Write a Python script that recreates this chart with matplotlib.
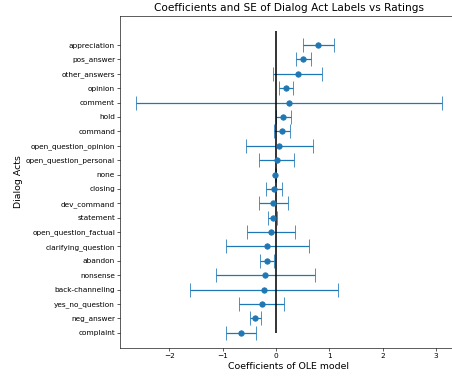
import matplotlib
matplotlib.use("Agg")
import matplotlib.pyplot as plt

# bottom to top, as drawn on the y axis
labels = ['complaint', 'neg_answer', 'yes_no_question', 'back-channeling',
          'nonsense', 'abandon', 'clarifying_question', 'open_question_factual',
          'statement', 'dev_command', 'closing', 'none',
          'open_question_personal', 'open_question_opinion', 'command', 'hold',
          'comment', 'opinion', 'other_answers', 'pos_answer', 'appreciation']
coefs = [-0.66, -0.39, -0.27, -0.225, -0.20, -0.17, -0.16, -0.09,
         -0.06, -0.05, -0.03, -0.01, 0.01, 0.06, 0.11, 0.14,
         0.24, 0.19, 0.41, 0.51, 0.79]
errors = [0.28, 0.105, 0.425, 1.38, 0.925, 0.135, 0.785, 0.45,
          0.085, 0.27, 0.15, 0.01, 0.33, 0.63, 0.15, 0.14,
          2.87, 0.13, 0.46, 0.14, 0.29]

dpi = 56
fig = plt.figure(figsize=(453 / dpi, 379 / dpi), dpi=dpi)
ax = fig.add_axes([0.266, 0.082, 0.743, 0.877])

y = list(range(len(labels)))
ax.errorbar(coefs, y, xerr=errors, fmt='o', capsize=9, lw=1.6, markersize=7)
ax.vlines(0, 0, len(labels), color='black', lw=2)

ax.set_yticks(y)
ax.set_yticklabels(labels)
ax.tick_params(labelsize=9.5)
ax.set_title('Coefficients and SE of Dialog Act Labels vs Ratings', fontsize=13.5)
ax.set_xlabel('Coefficients of OLE model', fontsize=12)
ax.set_ylabel('Dialog Acts', fontsize=12)

fig.savefig('out.png', dpi=dpi)
